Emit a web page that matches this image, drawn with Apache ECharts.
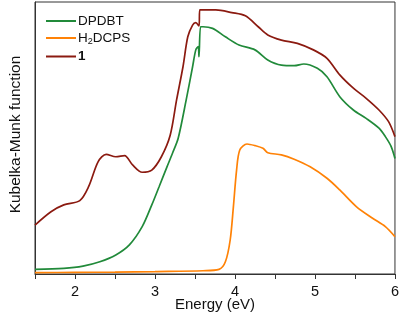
<!DOCTYPE html>
<html>
<head>
<meta charset="utf-8">
<script src="https://cdn.jsdelivr.net/npm/echarts@6/dist/echarts.min.js"></script>
<style>
  html, body { margin: 0; padding: 0; background: #fff; }
  #chart { width: 402px; height: 324px; }
</style>
</head>
<body>
<div id="chart"></div>
<script>
// Energy (eV) and Kubelka-Munk values (arbitrary units, 0-100)
const dpdbtX = [1.50, 1.86, 2.10, 2.31, 2.51, 2.68, 2.84, 2.96, 3.05, 3.15, 3.22, 3.29, 3.39, 3.47, 3.51, 3.54, 3.55, 3.57, 3.60, 3.72, 3.88, 4.05, 4.25, 4.41, 4.58, 4.74, 4.86, 5.03, 5.15, 5.31, 5.48, 5.64, 5.80, 5.88, 5.95, 6.00];
const dpdbtY = [1.7, 2.1, 2.9, 4.5, 7.0, 10.7, 17.4, 25.4, 32.0, 39.4, 44.5, 49.9, 64.0, 76.2, 82.4, 83.6, 79.9, 90.9, 90.9, 90.3, 87.2, 84.2, 82.4, 78.7, 76.8, 76.6, 77.2, 75.6, 72.5, 65.2, 60.3, 57.2, 53.6, 50.5, 47.0, 42.5];

const h2dcpsX = [1.50, 2.00, 2.50, 3.00, 3.60, 3.80, 3.88, 3.94, 3.98, 4.02, 4.06, 4.15, 4.25, 4.35, 4.41, 4.58, 4.74, 4.94, 5.15, 5.31, 5.52, 5.72, 5.88, 6.00];
const h2dcpsY = [0.5, 0.6, 0.7, 0.9, 1.2, 1.7, 4.5, 12.5, 24.7, 38.2, 45.6, 47.8, 47.2, 46.2, 44.6, 43.8, 42.2, 39.4, 35.2, 30.9, 24.7, 20.5, 17.4, 13.7];

const comp1X = [1.50, 1.70, 1.86, 2.06, 2.17, 2.29, 2.39, 2.51, 2.62, 2.72, 2.84, 2.96, 3.08, 3.19, 3.27, 3.35, 3.41, 3.47, 3.51, 3.55, 3.56, 3.60, 3.76, 3.96, 4.13, 4.29, 4.41, 4.58, 4.78, 4.98, 5.15, 5.31, 5.48, 5.64, 5.80, 5.92, 6.00];
const comp1Y = [18.0, 22.9, 25.4, 27.0, 32.1, 41.3, 44.0, 43.1, 43.5, 40.1, 37.4, 38.2, 43.1, 51.0, 64.0, 76.2, 87.2, 91.5, 92.4, 91.2, 97.1, 97.1, 97.1, 96.1, 94.9, 90.9, 87.9, 86.0, 84.8, 82.4, 79.3, 73.2, 68.3, 64.6, 60.3, 56.0, 50.5];

const xTicks = [2, 3, 4, 5, 6];

function pairs(xs, ys) {
  return xs.map((x, i) => [x, ys[i]]);
}

const chart = echarts.init(document.getElementById("chart"));
const font = "'Liberation Sans', Arial, sans-serif";

function line(name, xs, ys, color) {
  return {
    name: name,
    type: "line",
    data: pairs(xs, ys),
    symbol: "none",
    smooth: 0.3,
    lineStyle: { color: color, width: 1.7 },
    itemStyle: { color: color },
  };
}

chart.setOption({
  animation: false,
  textStyle: { fontFamily: font },
  grid: {
    left: 29,
    right: 6,
    top: 2,
    bottom: 50,
    show: true,
    borderColor: "#333",
    borderWidth: 1,
  },
  legend: {
    left: 41,
    top: 9,
    orient: "vertical",
    icon: "rect",
    itemWidth: 30,
    itemHeight: 2,
    itemGap: 3,
    textStyle: {
      fontSize: 13.5,
      color: "#111",
      padding: [0, 0, 0, -3],
      rich: {
        a: { fontSize: 13.5, color: "#111" },
        sub: { fontSize: 9, color: "#111", padding: [8, 0, 0, 0] },
        b: { fontSize: 13.5, fontWeight: "bold", color: "#111" },
      },
    },
    formatter: function (name) {
      if (name === "H2DCPS") return "{a|H}{sub|2}{a|DCPS}";
      if (name === "1") return "{b|1}";
      return name;
    },
  },
  xAxis: {
    type: "value",
    min: 1.5,
    max: 6,
    interval: 0.5,
    name: "Energy (eV)",
    nameLocation: "middle",
    nameGap: 23,
    nameMoveOverlap: false,
    nameTextStyle: { fontSize: 15, color: "#111" },
    axisLine: { lineStyle: { color: "#333", width: 1 } },
    axisTick: { show: true, length: 5, inside: false, lineStyle: { color: "#333" } },
    axisLabel: {
      fontSize: 14.5,
      color: "#111",
      margin: 10,
      formatter: function (v) {
        return xTicks.indexOf(v) >= 0 ? String(v) : "";
      },
    },
    splitLine: { show: false },
  },
  yAxis: {
    type: "value",
    min: 0,
    max: 100,
    name: "Kubelka-Munk function",
    nameLocation: "middle",
    nameGap: 11,
    nameMoveOverlap: false,
    nameTextStyle: { fontSize: 15.5, color: "#111", padding: [0, 0, 0, 7] },
    axisLine: { show: true, lineStyle: { color: "#333" } },
    axisTick: { show: false },
    axisLabel: { show: false },
    splitLine: { show: false },
  },
  series: [
    line("DPDBT", dpdbtX, dpdbtY, "#218a3a"),
    line("H2DCPS", h2dcpsX, h2dcpsY, "#ff8206"),
    line("1", comp1X, comp1Y, "#8b1a10"),
  ],
});
</script>
</body>
</html>
